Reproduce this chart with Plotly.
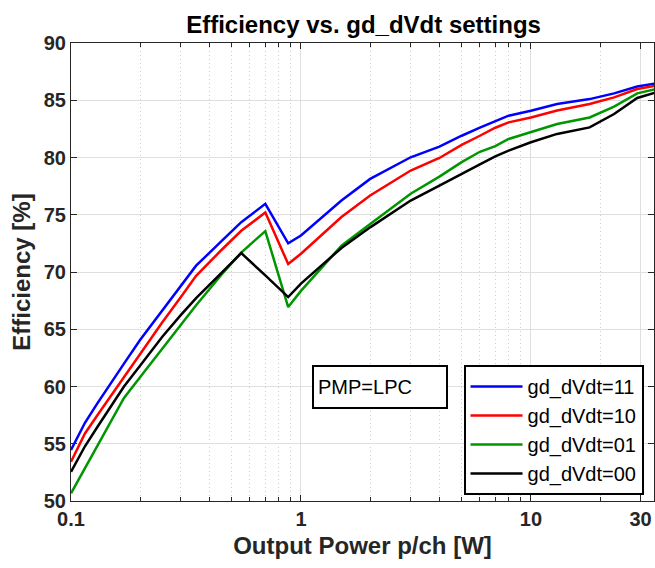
import plotly.graph_objects as go
import math

power_w = [0.1, 0.115, 0.13, 0.15, 0.17, 0.2, 0.25, 0.3, 0.35, 0.45, 0.55, 0.7, 0.88, 1.0,
           1.5, 2, 3, 4, 5, 6, 7, 8, 10, 13, 18, 23, 29, 35]

eff_11 = [54.45, 56.83, 58.5, 60.43, 62.0, 64.08, 66.7, 68.8, 70.55, 72.67, 74.35, 75.95, 72.5, 73.19,
          76.24, 78.13, 80.02, 80.95, 81.9, 82.6, 83.2, 83.65, 84.09, 84.67, 85.1, 85.6, 86.2, 86.47]
eff_10 = [53.43, 55.9, 57.46, 59.26, 60.84, 62.87, 65.64, 67.8, 69.66, 71.9, 73.6, 75.2, 70.7, 71.6,
          74.8, 76.68, 78.86, 79.96, 81.1, 81.9, 82.6, 83.07, 83.5, 84.1, 84.67, 85.25, 85.98, 86.27]
eff_01 = [50.67, 52.87, 54.8, 57.04, 59.0, 60.83, 63.3, 65.3, 67.1, 69.74, 71.7, 73.57, 66.94, 68.35,
          72.3, 74.2, 76.83, 78.33, 79.6, 80.5, 81.0, 81.62, 82.2, 82.93, 83.5, 84.44, 85.6, 85.98]
eff_00 = [52.55, 54.78, 56.44, 58.34, 60.0, 61.84, 64.37, 66.23, 67.72, 69.9, 71.65, 69.7, 67.81, 68.98,
          72.1, 73.9, 76.24, 77.55, 78.6, 79.4, 80.1, 80.6, 81.33, 82.06, 82.63, 83.8, 85.2, 85.69]

series_names = ["gd_dVdt=11", "gd_dVdt=10", "gd_dVdt=01", "gd_dVdt=00"]
series_values = [eff_11, eff_10, eff_01, eff_00]
series_colors = ["rgb(0,0,255)", "rgb(255,0,0)", "rgb(0,150,0)", "rgb(0,0,0)"]

x_major_ticks = [0.1, 1, 10, 30]
x_major_labels = ["0.1", "1", "10", "30"]
x_minor_ticks = [0.2, 0.3, 0.4, 0.5, 0.6, 0.7, 0.8, 0.9, 2, 3, 4, 5, 6, 7, 8, 9, 20]
y_ticks = [50, 55, 60, 65, 70, 75, 80, 85, 90]

FONT = "Liberation Sans, Arial, Helvetica, sans-serif"
AX = "rgb(38,38,38)"

fig = go.Figure()
for name, vals, col in zip(series_names, series_values, series_colors):
    fig.add_trace(go.Scatter(x=power_w, y=vals, mode="lines", name=name,
                             line=dict(color=col, width=2.5)))

fig.update_layout(
    width=655, height=568,
    margin=dict(l=71, r=1, t=43, b=67, autoexpand=False),
    paper_bgcolor="white", plot_bgcolor="white",
    font=dict(family=FONT, color=AX),
    title=dict(text="<b>Efficiency vs. gd_dVdt settings</b>", x=0.555, xanchor="center",
               y=1 - 25 / 568, yanchor="middle",
               font=dict(size=24, color="black", family=FONT)),
    showlegend=True,
    legend=dict(x=0.982, xanchor="right", y=0.297, yanchor="top",
                bordercolor="black", borderwidth=2, bgcolor="white",
                font=dict(size=20, color="black", family=FONT),
                itemwidth=52),
    annotations=[dict(text="PMP=LPC", xref="paper", yref="paper", x=0.530, y=0.249,
                      xanchor="center", yanchor="middle", showarrow=False,
                      font=dict(size=20, color="black", family=FONT),
                      bordercolor="black", borderwidth=2, borderpad=4,
                      width=124, height=32, align="left", bgcolor="white")],
)

fig.update_xaxes(
    type="log", range=[math.log10(0.1), math.log10(34.3)],
    automargin=False,
    tickmode="array", tickvals=x_major_ticks, ticktext=x_major_labels,
    tickfont=dict(size=20, color=AX, family=FONT, weight="bold"),
    ticks="inside", ticklen=6, tickcolor=AX, tickwidth=1,
    showline=True, linecolor=AX, linewidth=1, mirror="allticks",
    showgrid=True, gridcolor="rgb(223,223,223)", gridwidth=1,
    zeroline=False,
    minor=dict(tickmode="array", tickvals=x_minor_ticks, ticks="inside", ticklen=4,
               tickcolor=AX, showgrid=True, gridcolor="rgb(205,205,205)", griddash="1px,3px",
               gridwidth=1),
    title=dict(text="<b>Output Power p/ch [W]</b>", font=dict(size=24, color=AX, family=FONT),
               standoff=8),
)
fig.update_yaxes(
    range=[50, 90], tickmode="array", tickvals=y_ticks,
    automargin=False,
    tickfont=dict(size=20, color=AX, family=FONT, weight="bold"),
    ticks="inside", ticklen=6, tickcolor=AX, tickwidth=1,
    showline=True, linecolor=AX, linewidth=1, mirror="allticks",
    showgrid=True, gridcolor="rgb(223,223,223)", gridwidth=1,
    zeroline=False,
    title=dict(text="<b>Efficiency [%]</b>", font=dict(size=24, color=AX, family=FONT),
               standoff=6),
)

fig.write_html("out.html", config={"displayModeBar": False},
               post_script="document.body.style.margin='0';")
